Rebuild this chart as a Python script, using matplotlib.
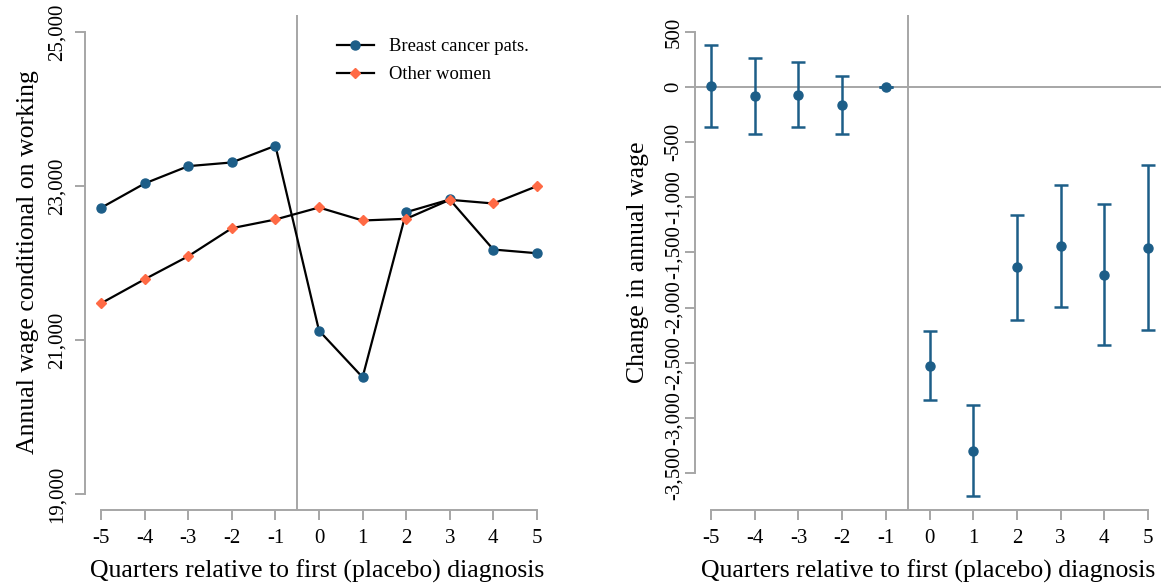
import matplotlib
matplotlib.use("Agg")
import matplotlib.pyplot as plt
import matplotlib.ticker as mticker
import numpy as np

plt.rcParams['font.family'] = ['Liberation Serif', 'DejaVu Serif']
plt.rcParams['axes.unicode_minus'] = False

# data
quarters = [-5, -4, -3, -2, -1, 0, 1, 2, 3, 4, 5]
wage_cancer = [22717, 23033, 23258, 23306, 23523, 21122, 20516, 22660, 22825, 22175, 22127]
wage_other = [21477, 21789, 22088, 22452, 22565, 22721, 22552, 22574, 22821, 22773, 22998]

coef = [6, -82, -70, -161, 0, -2527, -3297, -1636, -1445, -1703, -1455]
ci_upper = [379, 267, 227, 103, 0, -2209, -2885, -1158, -891, -1064, -703]
ci_lower = [-364, -424, -361, -424, 0, -2839, -3709, -2115, -1994, -2339, -2206]

left_ticks = [19000, 21000, 23000, 25000]
right_ticks = [500, 0, -500, -1000, -1500, -2000, -2500, -3000, -3500]

blue = '#1d5e88'
orange = '#ff6a45'
grey = '#a6a6a6'

fig = plt.figure(figsize=(11.61, 5.86), dpi=100)
ax1 = fig.add_axes([0.0732, 0.1297, 0.4005, 0.8447])
ax2 = fig.add_axes([0.5986, 0.1297, 0.4014, 0.8447])

def comma(v, pos):
    return '{:,.0f}'.format(v)

def style(ax, yt, ylim, ypad):
    ax.set_xlim(-5.37, 5.3)
    ax.set_ylim(*ylim)
    for s in ['top', 'right']:
        ax.spines[s].set_visible(False)
    for s in ['left', 'bottom']:
        ax.spines[s].set_color(grey)
        ax.spines[s].set_linewidth(1.4)
    ax.spines['bottom'].set_bounds(-5, 5)
    ax.spines['left'].set_bounds(min(yt), max(yt))
    ax.set_xticks(quarters)
    ax.set_yticks(yt)
    ax.yaxis.set_major_formatter(mticker.FuncFormatter(comma))
    ax.tick_params(axis='both', colors=grey, labelcolor='black', labelsize=15,
                   length=7.2, width=1.4)
    ax.tick_params(axis='x', pad=6.5)
    ax.tick_params(axis='y', pad=ypad)
    for lab in ax.get_yticklabels():
        lab.set_rotation(90)
        lab.set_va('center')
    ax.axvline(-0.5, color=grey, lw=1.4, zorder=1)
    ax.set_xlabel('Quarters relative to first (placebo) diagnosis', fontsize=18.5, labelpad=8.5)

# left panel
ax1.plot(quarters, wage_cancer, color='black', lw=1.6, marker='o', ms=6.5,
         mfc=blue, mec=blue, label='Breast cancer pats.', zorder=3)
ax1.plot(quarters, wage_other, color='black', lw=1.6, marker='D', ms=5.5,
         mfc=orange, mec=orange, label='Other women', zorder=3)
style(ax1, left_ticks, (18792, 25221), 6)
ax1.set_ylabel('Annual wage conditional on working', fontsize=18.5, labelpad=6)
ax1.legend(loc='upper left', bbox_to_anchor=(0.505, 0.987), frameon=False, fontsize=13.4,
           handlelength=2.0, labelspacing=0.6)

# right panel
coef_a = np.array(coef)
yerr = [coef_a - np.array(ci_lower), np.array(ci_upper) - coef_a]
ax2.axhline(0, color=grey, lw=1.4, zorder=1)
ax2.errorbar(quarters, coef, yerr=yerr, fmt='o', color=blue, ms=6.5, elinewidth=1.8,
             capsize=5, capthick=1.8, zorder=3)
style(ax2, right_ticks, (-3836, 654), 1)
ax2.set_ylabel('Change in annual wage', fontsize=18.5, labelpad=11)

fig.savefig('out.png', dpi=100)
